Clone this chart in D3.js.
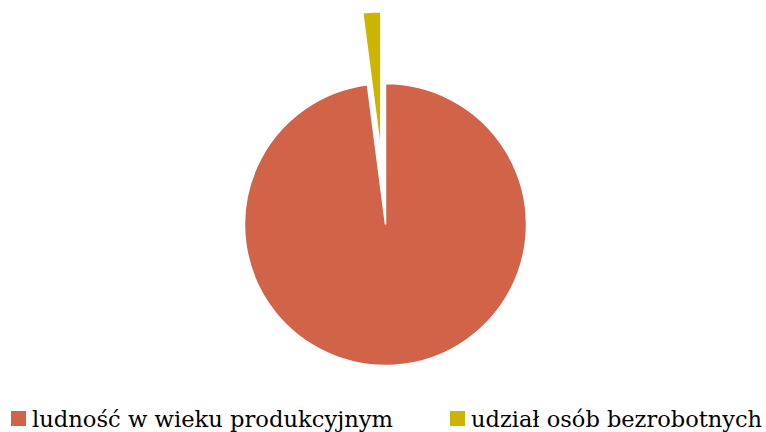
<!DOCTYPE html>
<html>
<head>
<meta charset="utf-8">
<script src="https://cdn.jsdelivr.net/npm/d3@7"></script>
<style>
  body { margin: 0; background: #fff; }
  svg { display: block; }
</style>
</head>
<body>
<script>
// data
const categories = ["ludność w wieku produkcyjnym", "udział osób bezrobotnych"];
const values = [97.95, 2.05];
const colors = ["#D16349", "#CCB400"];
const exploded = [0, 72];

const width = 766, height = 432;
const cx = 385.5, cy = 224.5, radius = 141;

const svg = d3.select("body").append("svg")
    .attr("width", width)
    .attr("height", height);

const pie = d3.pie().sort(null).value((d) => d.value);
const arc = d3.arc().innerRadius(0).outerRadius(radius);

const data = categories.map((c, i) => ({ name: c, value: values[i], color: colors[i], off: exploded[i] }));

const g = svg.append("g").attr("transform", `translate(${cx},${cy})`);

g.selectAll("path").data(pie(data)).enter().append("path")
    .attr("d", arc)
    .attr("transform", (d) => {
        const a = (d.startAngle + d.endAngle) / 2;
        return `translate(${Math.sin(a) * d.data.off},${-Math.cos(a) * d.data.off})`;
    })
    .style("fill", (d) => d.data.color)
    .style("stroke", "#fff")
    .style("stroke-width", 1.5);

// legend
const legendX = [11, 450];
const legendW = [361, 291];
const legend = svg.selectAll(".leg").data(data).enter().append("g")
    .attr("class", "leg")
    .attr("transform", (d, i) => `translate(${legendX[i]},0)`);

legend.append("rect")
    .attr("x", 0)
    .attr("y", 411)
    .attr("width", 15)
    .attr("height", 15)
    .style("fill", (d) => d.color);

legend.append("text")
    .attr("x", 21)
    .attr("y", 426.5)
    .attr("textLength", (d, i) => legendW[i])
    .attr("lengthAdjust", "spacingAndGlyphs")
    .style("font-family", "'DejaVu Serif', serif")
    .style("font-size", "22px")
    .style("fill", "#000")
    .text((d) => d.name);
</script>
</body>
</html>
